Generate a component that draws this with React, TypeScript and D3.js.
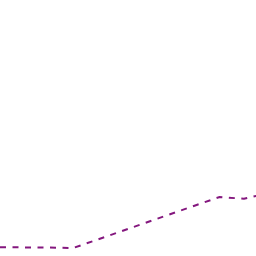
import React from "react";
import * as d3 from "d3";

const steps = [0, 1, 2, 3, 4, 5, 6, 7, 8, 9, 10, 11];
const values = [8.8, 8.6, 8.4, 8.0, 16.5, 25.0, 33.5, 42.0, 50.5, 59.0, 57.2, 63.0];

const W = 256;
const H = 256;

export default function App() {
  const x = d3.scaleLinear().domain([0, 10]).range([0, 244]);
  const y = d3.scaleLinear().domain([0, 256]).range([H, 0]);
  const line = d3
    .line<number>()
    .x((_, i) => x(steps[i]))
    .y((d) => y(d));
  return (
    <svg
      width={W}
      height={H}
      style={{ position: "absolute", left: 0, top: 0, background: "#fff" }}
    >
      <path
        d={line(values) || ""}
        fill="none"
        stroke="#84177e"
        strokeWidth={2}
        strokeDasharray="6,6.5"
      />
    </svg>
  );
}
